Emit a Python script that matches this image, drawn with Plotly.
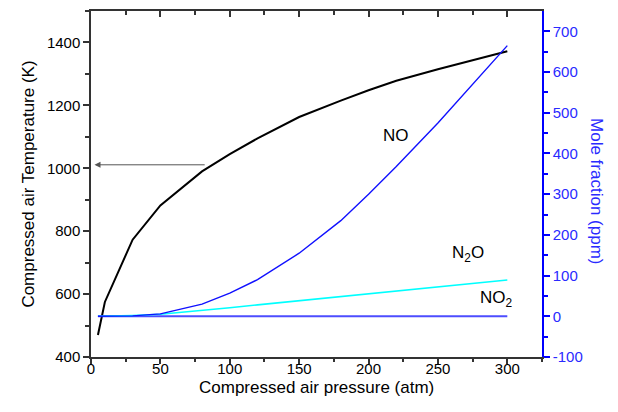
import plotly.graph_objects as go

pressure = [5, 10, 30, 50, 80, 100, 120, 150, 180, 200, 220, 250, 300]
temperature = [470, 575, 773, 882, 990, 1045, 1095, 1163, 1215, 1248, 1278, 1315, 1372]
no_ppm = [0, 0, 1, 6, 30, 57, 90, 155, 235, 300, 368, 475, 665]
n2o_ppm = [0, 0.3, 2, 5, 14, 21, 28, 38, 48, 55, 62, 72, 89]
no2_ppm = [0, 0, 0, 0, 0, 0, 0, 0, 0, 0, 0, 0, 0]
ppm_ticks = [-100, 0, 100, 200, 300, 400, 500, 600, 700]
ppm_labels = ["-100", "0", "100", "200", "300", "400", "500", "600", "700"]

FONT = "Liberation Sans, Arial, sans-serif"
BLUE = "#0000ff"
AX = "#333333"

fig = go.Figure()
fig.add_trace(go.Scatter(x=pressure, y=no2_ppm, mode="lines", yaxis="y2",
                         line=dict(color="#4d4dff", width=2), showlegend=False))
fig.add_trace(go.Scatter(x=pressure, y=n2o_ppm, mode="lines", yaxis="y2",
                         line=dict(color="#00ffff", width=1.6), showlegend=False))
fig.add_trace(go.Scatter(x=pressure, y=no_ppm, mode="lines", yaxis="y2",
                         line=dict(color="#1010ff", width=1.4), showlegend=False))
fig.add_trace(go.Scatter(x=pressure, y=temperature, mode="lines",
                         line=dict(color="black", width=2), showlegend=False))
# invisible traces for the extra tick axes
for ax in ("x2", "x3"):
    fig.add_trace(go.Scatter(x=[0], y=[400], xaxis=ax, mode="markers",
                             marker=dict(opacity=0), showlegend=False, hoverinfo="skip"))

fig.update_layout(
    width=618, height=412,
    margin=dict(l=91, r=76, t=11, b=55),
    plot_bgcolor="white", paper_bgcolor="white",
    font=dict(family=FONT, size=15, color="black"),
    xaxis=dict(range=[0, 325], dtick=50, tick0=0, showgrid=False, zeroline=False,
               showline=True, linecolor=AX, linewidth=1.5, ticks="",
               ticklabelstandoff=-3),
    xaxis3=dict(range=[0, 325], overlaying="x", side="bottom", anchor="y", showgrid=False,
                zeroline=False, showline=False, showticklabels=False, dtick=50, tick0=0,
                ticks="outside", ticklen=6, tickwidth=1.5, tickcolor=AX,
                minor=dict(ticks="outside", dtick=25, ticklen=4, tickwidth=1.5, tickcolor=AX)),
    xaxis2=dict(range=[0, 325], overlaying="x", side="top", anchor="y", showgrid=False,
                zeroline=False, showline=True, linecolor=AX, linewidth=1.5,
                showticklabels=False, dtick=50, tick0=0,
                ticks="inside", ticklen=6, tickwidth=1.5, tickcolor=AX,
                minor=dict(ticks="inside", dtick=25, ticklen=4, tickwidth=1.5, tickcolor=AX)),
    yaxis=dict(range=[400, 1500], dtick=200, tick0=400, showgrid=False, zeroline=False,
               showline=True, linecolor=AX, linewidth=1.5,
               ticks="outside", ticklen=6, tickwidth=1.5, tickcolor=AX,
               minor=dict(ticks="outside", dtick=100, ticklen=4, tickwidth=1.5, tickcolor=AX),
               title=dict(text="Compressed air Temperature (K)", font=dict(size=17), standoff=8)),
    yaxis2=dict(range=[-100, 750], tickmode="array", tickvals=ppm_ticks, ticktext=ppm_labels,
                overlaying="y", side="right",
                anchor="x", showgrid=False, zeroline=False,
                showline=True, linecolor=BLUE, linewidth=1.5,
                ticks="outside", ticklen=6, tickwidth=1.5, tickcolor=BLUE,
                tickfont=dict(color="#2a2aff"),
                minor=dict(ticks="outside", tickvals=[-50, 50, 150, 250, 350, 450, 550, 650],
                           ticklen=4, tickwidth=1.5, tickcolor=BLUE)),
)

fig.add_annotation(xref="paper", yref="paper", x=0.5, y=-0.088, yanchor="middle",
                   text="Compressed air pressure (atm)", showarrow=False,
                   font=dict(size=17))
fig.add_annotation(xref="paper", yref="paper", x=1.145, y=0.48, text="Mole fraction (ppm)",
                   textangle=90, showarrow=False, font=dict(size=17, color="#2a2aff"))

fig.add_annotation(xref="x", yref="y2", x=220, y=445, text="NO", showarrow=False,
                   font=dict(size=17))
fig.add_annotation(xref="x", yref="y2", x=271.5, y=153, text="N<sub>2</sub>O", showarrow=False,
                   font=dict(size=17))
fig.add_annotation(xref="x", yref="y2", x=292, y=42, text="NO<sub>2</sub>", showarrow=False,
                   font=dict(size=17))

# arrow pointing to temperature axis
fig.add_annotation(xref="x", yref="y", axref="x", ayref="y", x=2.5, y=1011, ax=83, ay=1011,
                   text="", showarrow=True, arrowhead=2, arrowsize=1.2, arrowwidth=1,
                   arrowcolor="#555555")

fig.write_html("out.html")
